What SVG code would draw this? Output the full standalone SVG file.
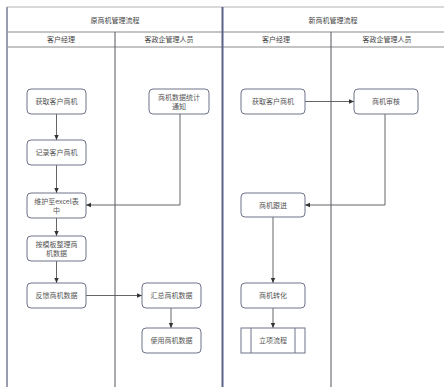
<svg xmlns="http://www.w3.org/2000/svg" width="444" height="387" viewBox="0 0 444 387">
<defs>
<style>
.frame{fill:none;stroke:#a6a8b4;stroke-width:1}
.hline{stroke:#8a8a8a;stroke-width:1.2}
.lane{stroke:#55575f;stroke-width:1}
.pool{stroke:#5c6188;stroke-width:2}
.edge{stroke:#9a9cb0;stroke-width:2}
.box{fill:#fff;stroke:#6e7288;stroke-width:1}
.t{font-family:"Noto Sans CJK SC","Liberation Sans",sans-serif;font-size:7px;fill:#555;text-anchor:middle}
.h{font-family:"Noto Sans CJK SC","Liberation Sans",sans-serif;font-size:7px;fill:#444;text-anchor:middle}
.c{fill:none;stroke:#555;stroke-width:0.9}
</style>
<marker id="ar" markerWidth="6" markerHeight="6" refX="5" refY="3" orient="auto" markerUnits="userSpaceOnUse">
<path d="M0,0.8 L5,3 L0,5.2 z" fill="#333"/>
</marker>
</defs>
<rect width="444" height="387" fill="#fff"/>
<g id="frame">
<line x1="7" y1="7" x2="444" y2="7" stroke="#b4b4b4" stroke-width="1"/>
<line x1="7" y1="32" x2="444" y2="32" class="hline"/>
<line x1="7" y1="47" x2="444" y2="47" class="hline"/>
<line x1="7" y1="7" x2="7" y2="387" class="edge"/>
<line x1="115" y1="32" x2="115" y2="387" class="lane"/>
<line x1="222.5" y1="7" x2="222.5" y2="387" class="pool"/>
<line x1="331" y1="32" x2="331" y2="387" class="lane"/>
<text x="115" y="22.5" class="h">原商机管理流程</text>
<text x="61" y="42" class="h">客户经理</text>
<text x="169" y="42" class="h">客政企管理人员</text>
<text x="333" y="22.5" class="h">新商机管理流程</text>
<text x="276" y="42" class="h">客户经理</text>
<text x="387" y="42" class="h">客政企管理人员</text>
</g>
<g id="connectors">
<line x1="56.5" y1="114" x2="56.5" y2="140" class="c" marker-end="url(#ar)"/>
<line x1="56.5" y1="165" x2="56.5" y2="193" class="c" marker-end="url(#ar)"/>
<polyline points="180,114 180,205 86,205" class="c" marker-end="url(#ar)"/>
<line x1="56.5" y1="218" x2="56.5" y2="236" class="c" marker-end="url(#ar)"/>
<line x1="56.5" y1="261" x2="56.5" y2="283" class="c" marker-end="url(#ar)"/>
<line x1="86" y1="295.5" x2="142" y2="295.5" class="c" marker-end="url(#ar)"/>
<line x1="171" y1="308" x2="171" y2="328" class="c" marker-end="url(#ar)"/>
<line x1="305" y1="101.5" x2="354" y2="101.5" class="c" marker-end="url(#ar)"/>
<polyline points="385,114 385,205 305,205" class="c" marker-end="url(#ar)"/>
<line x1="273" y1="217" x2="273" y2="283" class="c" marker-end="url(#ar)"/>
<line x1="273" y1="308" x2="273" y2="328" class="c" marker-end="url(#ar)"/>
</g>
<g id="n1"><rect x="27" y="89" width="59" height="25" rx="4" class="box"/><text x="56.5" y="104" class="t">获取客户商机</text></g>
<g id="n2"><rect x="149" y="89" width="60" height="25" rx="4" class="box"/><text x="179" y="99.5" class="t">商机数据统计</text><text x="179" y="109" class="t">通知</text></g>
<g id="n3"><rect x="27" y="140" width="59" height="25" rx="4" class="box"/><text x="56.5" y="155" class="t">记录客户商机</text></g>
<g id="n4"><rect x="27" y="193" width="59" height="25" rx="4" class="box"/><text x="56.5" y="203.5" class="t">维护至excel表</text><text x="56.5" y="213" class="t">中</text></g>
<g id="n5"><rect x="27" y="236" width="59" height="25" rx="4" class="box"/><text x="56.5" y="246.5" class="t">按模板整理商</text><text x="56.5" y="256" class="t">机数据</text></g>
<g id="n6"><rect x="27" y="283" width="59" height="25" rx="4" class="box"/><text x="56.5" y="298" class="t">反馈商机数据</text></g>
<g id="n7"><rect x="142" y="283" width="59" height="25" rx="4" class="box"/><text x="171.5" y="298" class="t">汇总商机数据</text></g>
<g id="n8"><rect x="142" y="328" width="59" height="25" rx="4" class="box"/><text x="171.5" y="343" class="t">使用商机数据</text></g>
<g id="n9"><rect x="241" y="89" width="64" height="25" rx="4" class="box"/><text x="273" y="104" class="t">获取客户商机</text></g>
<g id="n10"><rect x="354" y="89" width="64" height="25" rx="4" class="box"/><text x="386" y="104" class="t">商机审核</text></g>
<g id="n11"><rect x="241" y="193" width="64" height="24" rx="4" class="box"/><text x="273" y="207.5" class="t">商机跟进</text></g>
<g id="n12"><rect x="241" y="283" width="64" height="25" rx="4" class="box"/><text x="273" y="298" class="t">商机转化</text></g>
<g id="n13"><rect x="241" y="328" width="64" height="25" class="box"/><line x1="251" y1="328" x2="251" y2="353" class="box"/><line x1="295" y1="328" x2="295" y2="353" class="box"/><text x="273" y="343" class="t">立项流程</text></g>
</svg>
